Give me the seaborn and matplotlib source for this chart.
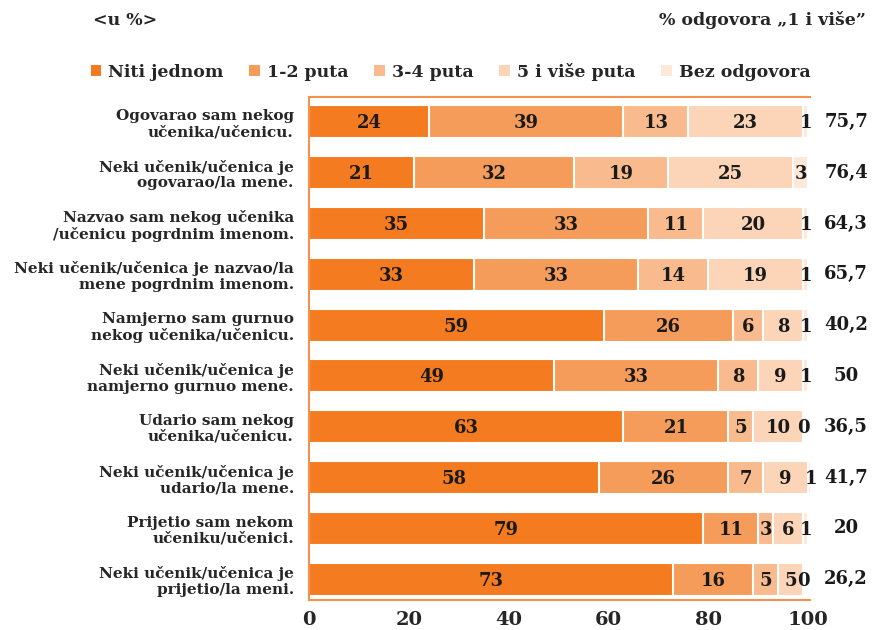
import matplotlib
matplotlib.use("Agg")
import matplotlib.pyplot as plt
from matplotlib.patches import Patch
import seaborn as sns
import numpy as np
import pandas as pd

# data
categories = [
    "Ogovarao sam nekog\nučenika/učenicu.",
    "Neki učenik/učenica je\nogovarao/la mene.",
    "Nazvao sam nekog učenika\n/učenicu pogrdnim imenom.",
    "Neki učenik/učenica je nazvao/la\nmene pogrdnim imenom.",
    "Namjerno sam gurnuo\nnekog učenika/učenicu.",
    "Neki učenik/učenica je\nnamjerno gurnuo mene.",
    "Udario sam nekog\nučenika/učenicu.",
    "Neki učenik/učenica je\nudario/la mene.",
    "Prijetio sam nekom\nučeniku/učenici.",
    "Neki učenik/učenica je\nprijetio/la meni.",
]
series_names = ["Niti jednom", "1-2 puta", "3-4 puta", "5 i više puta", "Bez odgovora"]
niti_jednom = [24, 21, 35, 33, 59, 49, 63, 58, 79, 73]
puta_1_2 = [39, 32, 33, 33, 26, 33, 21, 26, 11, 16]
puta_3_4 = [13, 19, 11, 14, 6, 8, 5, 7, 3, 5]
puta_5_plus = [23, 25, 20, 19, 8, 9, 10, 9, 6, 5]
bez_odgovora = [1, 3, 1, 1, 1, 1, 0, 1, 1, 0]
jedan_i_vise = ["75,7", "76,4", "64,3", "65,7", "40,2", "50", "36,5", "41,7", "20", "26,2"]

colors = ["#F47B20", "#F69C5B", "#F9BB8E", "#FCD5B9", "#FDE8D9"]
frame_col = "#F4914D"

df = pd.DataFrame({
    "kat": categories,
    series_names[0]: niti_jednom,
    series_names[1]: puta_1_2,
    series_names[2]: puta_3_4,
    series_names[3]: puta_5_plus,
    series_names[4]: bez_odgovora,
})
cum = df[series_names].cumsum(axis=1)

sns.set_style("white")
fig = plt.figure(figsize=(8.73, 6.3), dpi=100)
ax = fig.add_axes([0.354, 0.0476, 0.574, 0.7984])

# stack by overlaying cumulative bars, widest first
for name, col in reversed(list(zip(series_names, colors))):
    sns.barplot(x=cum[name], y=df["kat"], orient="h", color=col, saturation=1,
                edgecolor="white", linewidth=1.5, width=0.65, ax=ax)

num_font = dict(family="DejaVu Serif", weight="bold")
for i in range(len(categories)):
    left = 0
    for name in series_names:
        v = df[name][i]
        ax.text(left + v / 2, i + 0.03, str(v), ha="center", va="center",
                fontsize=13, color="#1a1a1a", **num_font)
        left += v
    ax.text(107.6, i, jedan_i_vise[i], ha="center", va="center",
            fontsize=13, color="#1a1a1a", clip_on=False, **num_font)

ax.set_xlim(0, 100.4)
ax.set_ylim(9.41, -0.49)
ax.set_xticks([0, 20, 40, 60, 80, 100])
ax.set_xlabel("")
ax.set_ylabel("")
ax.tick_params(axis="both", length=0)
ax.tick_params(axis="x", pad=8)
ax.tick_params(axis="y", pad=11)
for lab in ax.get_xticklabels():
    lab.set_fontfamily("DejaVu Serif")
    lab.set_fontweight("bold")
    lab.set_fontsize(14)
for lab in ax.get_yticklabels():
    lab.set_fontfamily("DejaVu Serif")
    lab.set_fontweight("bold")
    lab.set_fontsize(11)
    lab.set_horizontalalignment("right")
    lab.set_multialignment("right")
    lab.set_linespacing(1.15)

for side in ["left", "top", "bottom"]:
    ax.spines[side].set_visible(True)
    ax.spines[side].set_color(frame_col)
    ax.spines[side].set_linewidth(1.5)
    ax.spines[side].set_zorder(10)
ax.spines["right"].set_visible(False)

head_font = dict(family="DejaVu Serif", weight="bold", fontsize=12.5)
fig.text(0.106, 0.968, "<u %>", ha="left", va="center", **head_font)
fig.text(0.992, 0.968, "% odgovora \u201e1 i više\u201d", ha="right", va="center", **head_font)

handles = [Patch(facecolor=c, edgecolor="none") for c in colors]
fig.legend(handles, series_names, loc="center", bbox_to_anchor=(0.516, 0.886),
           ncol=5, frameon=False, handlelength=0.6, handleheight=0.6,
           handletextpad=0.4, columnspacing=1.5,
           prop=dict(family="DejaVu Serif", weight="bold", size=12.5))

fig.savefig("out.png", dpi=100)
